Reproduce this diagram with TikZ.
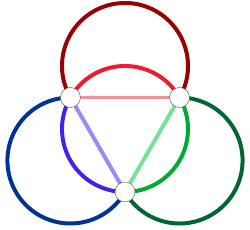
\documentclass[tikz,border=0pt]{standalone}
\usetikzlibrary{calc, backgrounds}
\definecolor{outerred}{RGB}{153,0,0}
\definecolor{outerblue}{RGB}{0,51,153}
\definecolor{outergreen}{RGB}{0,102,51}
\definecolor{innerred}{RGB}{237,28,46}
\definecolor{innerblue}{RGB}{68,34,238}
\definecolor{innergreen}{RGB}{0,170,51}
\definecolor{edgered}{RGB}{244,144,154}
\definecolor{edgeblue}{RGB}{150,140,248}
\definecolor{edgegreen}{RGB}{120,224,155}
\tikzset{
  % ring arcs (parameterized by color)
  ring/.style={draw=#1, line width=3.4pt},
  % straight triangle sides
  side/.style={draw=#1, line width=3.4pt},
  % vertex discs
  vertex/.style={circle, draw=gray!70!black, fill=white, line width=0.4pt,
    minimum size=0.6cm, inner sep=0pt}
}
\begin{document}
\begin{tikzpicture}
  \def\R{1.89}
  \useasboundingbox (-3.75,-3.03) rectangle (3.75,3.87);

  % Vertices on the inner circle
  \node[vertex] (A) at (150:\R) {};
  \node[vertex] (B) at (30:\R) {};
  \node[vertex] (C) at (270:\R) {};

  \begin{scope}[on background layer]
    % --- Triangle sides ---
    \draw[side=edgered] (A.center) -- (B.center);
    \draw[side=edgeblue] (A.center) -- (C.center);
    \draw[side=edgegreen] (B.center) -- (C.center);

    % --- Inner circle, one arc per side ---
    \draw[ring=innerred] (B.center) arc[start angle=30, end angle=150, radius=\R];
    \draw[ring=innerblue] (A.center) arc[start angle=150, end angle=270, radius=\R];
    \draw[ring=innergreen] (C.center) arc[start angle=270, end angle=390, radius=\R];

    % --- Outer circles, centred on the inner circle ---
    \draw[ring=outerred] (B.center) arc[start angle=-30, end angle=210, radius=\R];
    \draw[ring=outerblue] (A.center) arc[start angle=90, end angle=330, radius=\R];
    \draw[ring=outergreen] (C.center) arc[start angle=210, end angle=450, radius=\R];
  \end{scope}
\end{tikzpicture}
\end{document}
